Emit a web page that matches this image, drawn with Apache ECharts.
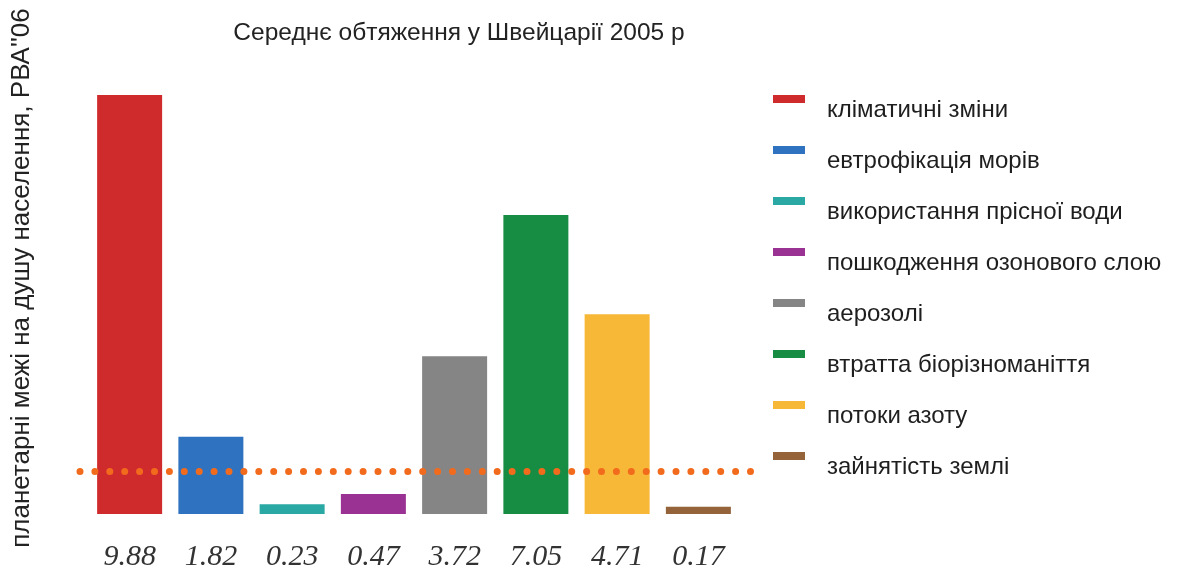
<!DOCTYPE html>
<html>
<head>
<meta charset="utf-8">
<script src="https://cdn.jsdelivr.net/npm/echarts@6/dist/echarts.min.js"></script>
<style>
  html, body { margin: 0; padding: 0; background: #fff; }
  #chart { width: 1181px; height: 568px; }
</style>
</head>
<body>
<div id="chart"></div>
<script>
var categories = ["9.88", "1.82", "0.23", "0.47", "3.72", "7.05", "4.71", "0.17"];
var names = [
  "кліматичні зміни",
  "евтрофікація морів",
  "використання прісної води",
  "пошкодження озонового слою",
  "аерозолі",
  "втратта біорізноманіття",
  "потоки азоту",
  "зайнятість землі"
];
var values = [9.88, 1.82, 0.23, 0.47, 3.72, 7.05, 4.71, 0.17];
var colors = ["#cf2a2c", "#2f72bf", "#2aa8a4", "#9a3294", "#858585", "#178d43", "#f7b737", "#94633a"];
var boundary = 1;

var chart = echarts.init(document.getElementById("chart"));

// one series per category so every bar gets its own legend entry
var series = names.map(function (name, i) {
  return {
    name: name,
    type: "bar",
    stack: "all",
    barCategoryGap: "20%",
    itemStyle: { color: colors[i] },
    data: values.map(function (v, j) { return j === i ? v : "-"; })
  };
});

// dotted boundary line lives in a second, wider grid
series.push({
  type: "line",
  xAxisIndex: 1,
  yAxisIndex: 1,
  data: [],
  silent: true,
  markLine: {
    symbol: "none",
    silent: true,
    label: { show: false },
    lineStyle: { color: "#f26b1d", width: 7, type: [0, 14.9], cap: "round", opacity: 1 },
    data: [{ yAxis: boundary }]
  }
});

chart.setOption({
  backgroundColor: "#fff",
  animation: false,
  textStyle: { fontFamily: "Liberation Sans, Arial, sans-serif" },
  title: {
    text: "Середнє обтяження у Швейцарії 2005 р",
    left: 454,
    textAlign: "center",
    top: 16,
    textStyle: { fontSize: 24.5, fontWeight: "normal", color: "#222" }
  },
  legend: {
    orient: "vertical",
    left: 768,
    top: 90,
    itemWidth: 32,
    itemHeight: 30,
    itemGap: 21,
    // swatch sits in the top of the item box so the label hangs below it
    icon: "path://M0,0h32v8h-32zM0,29.99h0.01v0.01h-0.01z",
    data: names,
    textStyle: { fontSize: 24, color: "#1e1e1e", padding: [0, 0, 0, 17] }
  },
  grid: [
    { left: 89, width: 650, top: 90, bottom: 54, outerBoundsMode: "none" },
    { left: 80, width: 672, top: 90, bottom: 54, outerBoundsMode: "none" }
  ],
  xAxis: [
    {
      type: "category",
      data: categories,
      gridIndex: 0,
      axisLine: { show: false },
      axisTick: { show: false },
      axisLabel: {
        margin: 28,
        fontSize: 30,
        fontStyle: "italic",
        fontFamily: "Liberation Serif, DejaVu Serif, serif",
        color: "#333"
      }
    },
    { type: "value", gridIndex: 1, min: 0, max: 1, show: false }
  ],
  yAxis: [
    { type: "value", gridIndex: 0, min: 0, max: 10, show: false },
    { type: "value", gridIndex: 1, min: 0, max: 10, show: false }
  ],
  graphic: [{
    type: "text",
    x: 9,
    y: 278,
    rotation: Math.PI / 2,
    style: {
      text: "планетарні межі на душу населення, РВА''06",
      fontSize: 26,
      fontFamily: "Liberation Sans, Arial, sans-serif",
      fill: "#222",
      align: "center",
      verticalAlign: "top"
    }
  }],
  series: series
});
</script>
</body>
</html>
